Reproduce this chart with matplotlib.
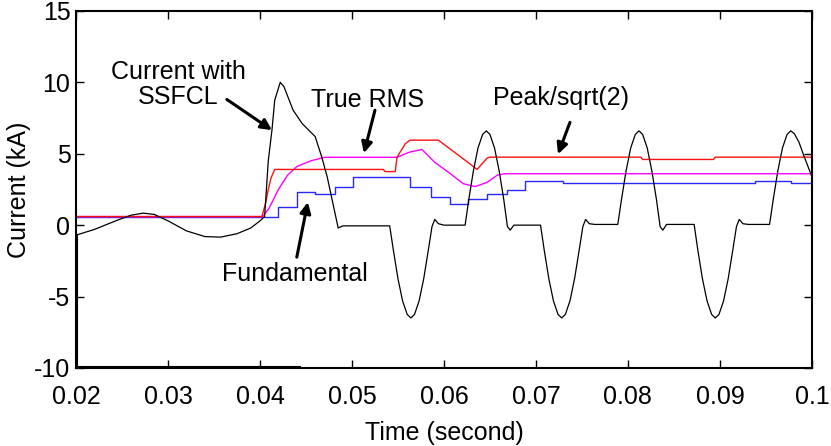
import matplotlib.pyplot as plt

plt.rcParams['font.family'] = ['Liberation Sans', 'DejaVu Sans']
plt.rcParams['axes.unicode_minus'] = False

# ---- data ----
# current with SSFCL (kA)
t_cur = [0.0200, 0.0220, 0.0245, 0.0260, 0.0273, 0.0285, 0.0300, 0.0320, 0.0340,
         0.0357, 0.0375, 0.0390, 0.0400, 0.0405, 0.0409, 0.0413, 0.0416, 0.0422,
         0.0426, 0.0436, 0.0446, 0.0460, 0.0467, 0.0473, 0.0479, 0.0485, 0.0490,
         # 1st negative lobe
         0.0541, 0.0545, 0.0550, 0.0555, 0.0560, 0.0564, 0.0568, 0.0573, 0.0578,
         0.0583, 0.0587, 0.0590, 0.0594, 0.0600,
         # 1st positive lobe
         0.0623, 0.0627, 0.0632, 0.0637, 0.0642, 0.0646, 0.0650, 0.0655, 0.0660,
         0.0665, 0.0669, 0.0672, 0.0676,
         # 2nd negative lobe
         0.0705, 0.0709, 0.0714, 0.0719, 0.0724, 0.0728, 0.0732, 0.0737, 0.0742,
         0.0747, 0.0751, 0.0754, 0.0758, 0.0764,
         # 2nd positive lobe
         0.0789, 0.0793, 0.0798, 0.0803, 0.0808, 0.0812, 0.0816, 0.0821, 0.0826,
         0.0831, 0.0835, 0.0838, 0.0842,
         # 3rd negative lobe
         0.0872, 0.0876, 0.0881, 0.0886, 0.0891, 0.0895, 0.0899, 0.0904, 0.0909,
         0.0914, 0.0918, 0.0921, 0.0925, 0.0931,
         # 3rd positive lobe
         0.0954, 0.0958, 0.0963, 0.0968, 0.0973, 0.0977, 0.0981, 0.0986, 0.0991,
         0.1000]
i_cur = [-0.70, -0.30, 0.35, 0.70, 0.84, 0.75, 0.30, -0.40, -0.80,
         -0.84, -0.60, -0.20, 0.30, 0.60, 4.50, 6.65, 8.75, 10.0,
         9.70, 8.05, 7.10, 6.20, 4.80, 3.40, 1.60, -0.20, -0.05,
         -0.05, -1.75, -3.75, -5.3, -6.25, -6.5, -6.25, -5.3, -3.75,
         -1.75, -0.10, 0.40, 0.10, 0.00,
         0.00, 1.8, 3.8, 5.4, 6.35, 6.6, 6.35, 5.4, 3.8,
         1.8, -0.10, -0.35, 0.00,
         0.00, -1.75, -3.75, -5.3, -6.25, -6.5, -6.25, -5.3, -3.75,
         -1.75, -0.10, 0.40, 0.10, 0.05,
         0.05, 1.8, 3.8, 5.4, 6.35, 6.6, 6.35, 5.4, 3.8,
         1.8, -0.10, -0.35, 0.05,
         0.05, -1.75, -3.75, -5.3, -6.25, -6.5, -6.25, -5.3, -3.75,
         -1.75, -0.10, 0.40, 0.10, 0.05,
         0.05, 1.8, 3.8, 5.4, 6.35, 6.6, 6.4, 5.8, 4.9,
         3.4]
# initial-value trace lying on the lower axis
t_init = [0.0444, 0.0201, 0.0201]
i_init = [-9.9, -9.9, -0.7]

# Peak/sqrt(2)
t_peak = [0.0200, 0.0402, 0.0406, 0.0409, 0.0412, 0.0416, 0.0534, 0.0536, 0.0547,
          0.0549, 0.0558, 0.0563, 0.0594, 0.0628, 0.0636, 0.0647, 0.0650, 0.0814,
          0.0816, 0.0893, 0.0895, 0.1000]
i_peak = [0.6, 0.6, 1.5, 2.5, 3.3, 3.9, 3.9, 3.75, 3.75,
          4.76, 5.7, 5.95, 5.95, 4.3, 3.9, 4.7, 4.76, 4.76,
          4.6, 4.6, 4.76, 4.76]

# True RMS
t_rms = [0.0200, 0.0403, 0.0410, 0.0420, 0.0430, 0.0440, 0.0455, 0.0470, 0.0549,
         0.0562, 0.0576, 0.0590, 0.0607, 0.0621, 0.0634, 0.0647, 0.0658, 0.0666,
         0.1000]
i_rms = [0.6, 0.6, 1.2, 2.5, 3.5, 4.1, 4.5, 4.75, 4.75,
         5.1, 5.3, 4.4, 3.6, 2.9, 2.7, 3.0, 3.5, 3.6,
         3.6]

# Fundamental (stepwise)
t_fund = [0.0200, 0.0420, 0.0440, 0.0460, 0.0482, 0.0501, 0.0563, 0.0586, 0.0607,
          0.0626, 0.0647, 0.0668, 0.0688, 0.0729, 0.0938, 0.0977, 0.1000]
i_fund = [0.6, 1.25, 2.35, 2.2, 2.65, 3.4, 2.65, 1.95, 1.5,
          1.8, 2.2, 2.45, 3.1, 2.95, 3.08, 2.98, 2.98]

x_ticks = [0.02, 0.03, 0.04, 0.05, 0.06, 0.07, 0.08, 0.09, 0.1]
x_labels = ['0.02', '0.03', '0.04', '0.05', '0.06', '0.07', '0.08', '0.09', '0.1']
y_ticks = [-10, -5, 0, 5, 10, 15]

# ---- figure ----
fig = plt.figure(figsize=(8.31, 4.46), dpi=100)
ax = fig.add_axes([0.0915, 0.175, 0.8855, 0.8005])

ax.plot(t_init, i_init, color='black', lw=1.5)
ax.plot(t_fund, i_fund, color='#2828ff', lw=1.0, drawstyle='steps-post')
ax.plot(t_rms, i_rms, color='#ff00ff', lw=1.0)
ax.plot(t_peak, i_peak, color='#ff1010', lw=1.0)
ax.plot(t_cur, i_cur, color='black', lw=0.9)

ax.set_xlim(0.02, 0.1)
ax.set_ylim(-10, 15)
ax.set_xticks(x_ticks)
ax.set_xticklabels(x_labels)
ax.set_yticks(y_ticks)
ax.tick_params(direction='in', length=6, width=1, top=True, right=True,
               labelsize=18, pad=4)
ax.tick_params(axis='x', pad=12)
for s in ax.spines.values():
    s.set_linewidth(1.5)

ax.set_xlabel('Time (second)', fontsize=18, labelpad=9)
ax.set_ylabel('Current (kA)', fontsize=18)
ax.yaxis.set_label_coords(-0.061, 0.5)

arrow = dict(arrowstyle='-|>', color='black', lw=2.2, mutation_scale=16,
             shrinkA=0, shrinkB=0)
fs = 18
ax.annotate('', xy=(0.0413, 6.65), xytext=(0.0364, 8.8), arrowprops=arrow)
ax.text(0.0311, 9.85, 'Current with\nSSFCL', fontsize=fs, ha='center', va='center',
        multialignment='center', linespacing=1.05)
ax.annotate('', xy=(0.0513, 5.04), xytext=(0.0525, 8.05), arrowprops=arrow)
ax.text(0.0517, 8.75, 'True RMS', fontsize=fs, ha='center', va='center')
ax.annotate('', xy=(0.0724, 4.97), xytext=(0.0737, 7.2), arrowprops=arrow)
ax.text(0.0727, 8.9, 'Peak/sqrt(2)', fontsize=fs, ha='center', va='center')
ax.annotate('', xy=(0.0452, 1.61), xytext=(0.0440, -2.24), arrowprops=arrow)
ax.text(0.0438, -3.4, 'Fundamental', fontsize=fs, ha='center', va='center')

fig.savefig('out.png', dpi=100)
